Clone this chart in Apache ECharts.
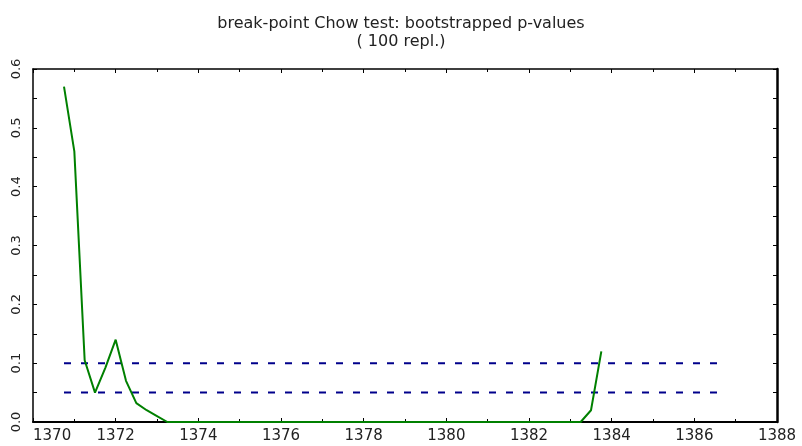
<!DOCTYPE html>
<html>
<head>
<meta charset="utf-8">
<script src="https://cdn.jsdelivr.net/npm/echarts@6/dist/echarts.min.js"></script>
<style>
  html, body { margin: 0; padding: 0; background: #fff; }
  #chart { width: 802px; height: 446px; }
</style>
</head>
<body>
<div id="chart"></div>
<script>
// break-point dates (quarters) and bootstrapped p-values
const breakDates = [
  1370.75, 1371.0, 1371.25, 1371.5, 1371.75, 1372.0, 1372.25, 1372.5, 1372.75,
  1373.0, 1373.25, 1373.5, 1373.75, 1374.0, 1374.25, 1374.5, 1374.75,
  1375.0, 1375.25, 1375.5, 1375.75, 1376.0, 1376.25, 1376.5, 1376.75,
  1377.0, 1377.25, 1377.5, 1377.75, 1378.0, 1378.25, 1378.5, 1378.75,
  1379.0, 1379.25, 1379.5, 1379.75, 1380.0, 1380.25, 1380.5, 1380.75,
  1381.0, 1381.25, 1381.5, 1381.75, 1382.0, 1382.25, 1382.5, 1382.75,
  1383.0, 1383.25, 1383.5, 1383.75
]
const pValues = [
  0.57, 0.46, 0.105, 0.05, 0.092, 0.14, 0.07, 0.032, 0.02,
  0.01, 0, 0, 0, 0, 0, 0, 0,
  0, 0, 0, 0, 0, 0, 0, 0,
  0, 0, 0, 0, 0, 0, 0, 0,
  0, 0, 0, 0, 0, 0, 0, 0,
  0, 0, 0, 0, 0, 0, 0, 0,
  0, 0, 0.02, 0.12
]
// critical levels (dashed lines) and their x range
const critLevels = [0.1, 0.05]
const critRange = [1370.75, 1386.75]

const xTicks = [1370, 1388, 2]
const yTicks = [0, 0.6, 0.1]

const fontFam = '"DejaVu Sans", sans-serif'

const chart = echarts.init(document.getElementById('chart'))

const frameAxisX = (pos, width, showLabel) => ({
  type: 'value',
  position: pos,
  min: xTicks[0],
  max: xTicks[1],
  interval: xTicks[2],
  splitLine: { show: false },
  axisLine: { show: true, onZero: false, lineStyle: { color: '#000', width: width } },
  axisTick: { show: true, inside: true, length: 4, lineStyle: { color: '#000', width: 1 } },
  minorTick: { show: true, splitNumber: 2, length: 3, lineStyle: { color: '#000', width: 1 } },
  minorSplitLine: { show: false },
  axisLabel: {
    show: showLabel,
    margin: 7,
    color: '#222',
    fontFamily: fontFam,
    fontSize: 15,
    alignMinLabel: 'left',
    showMinLabel: true,
    showMaxLabel: true,
    formatter: (v) => String(v)
  }
})

const frameAxisY = (pos, width, showLabel) => ({
  type: 'value',
  position: pos,
  min: yTicks[0],
  max: yTicks[1],
  interval: yTicks[2],
  splitLine: { show: false },
  axisLine: { show: true, onZero: false, lineStyle: { color: '#000', width: width } },
  axisTick: { show: true, inside: true, length: 4, lineStyle: { color: '#000', width: 1 } },
  minorTick: { show: true, splitNumber: 2, length: 4, lineStyle: { color: '#000', width: 1 } },
  minorSplitLine: { show: false },
  axisLabel: {
    show: showLabel,
    rotate: 90,
    margin: 10,
    color: '#222',
    fontFamily: fontFam,
    fontSize: 13,
    showMinLabel: true,
    showMaxLabel: true,
    formatter: (v) => v.toFixed(1)
  }
})

const critSeries = critLevels.map((lvl) => ({
  type: 'line',
  data: [[critRange[0], lvl], [critRange[1], lvl]],
  symbol: 'none',
  silent: true,
  z: 3,
  lineStyle: { color: '#00008b', width: 2, type: [7, 10] }
}))

const option = {
  animation: false,
  backgroundColor: '#fff',
  title: {
    text: 'break-point Chow test: bootstrapped p-values\n( 100 repl.)',
    left: 'center',
    top: 10,
    textStyle: {
      color: '#222',
      fontFamily: fontFam,
      fontWeight: 'normal',
      fontSize: 16,
      lineHeight: 18
    }
  },
  grid: {
    left: 33,
    right: 25,
    top: 69,
    bottom: 24,
    containLabel: false,
    outerBoundsMode: 'none'
  },
  xAxis: [
    frameAxisX('bottom', 2, true),
    frameAxisX('top', 1.5, false)
  ],
  yAxis: [
    frameAxisY('left', 1.5, true),
    frameAxisY('right', 2.5, false)
  ],
  series: [
    {
      type: 'line',
      data: breakDates.map((d, i) => [d, pValues[i]]),
      symbol: 'none',
      z: 4,
      lineStyle: { color: '#008000', width: 2 }
    },
    ...critSeries
  ]
}

chart.setOption(option)
</script>
</body>
</html>
